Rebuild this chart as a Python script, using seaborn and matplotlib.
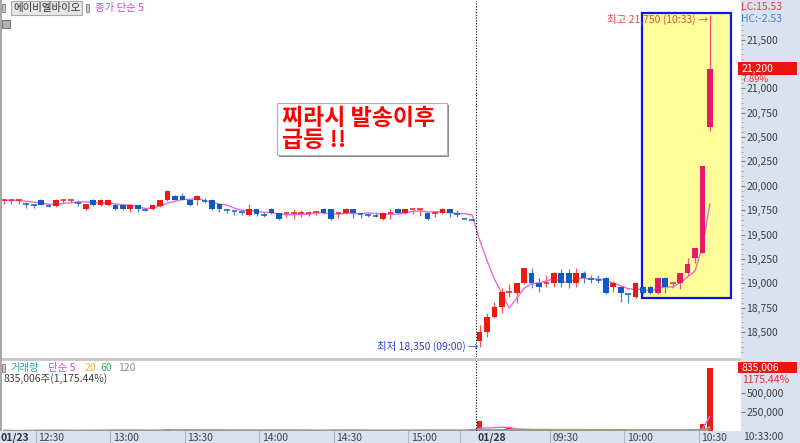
import matplotlib
matplotlib.use("Agg")
import matplotlib.pyplot as plt
import matplotlib.transforms as mtransforms
from matplotlib.patches import Rectangle
import numpy as np
import pandas as pd
import seaborn as sns

# 3분봉 OHLC: 01/23 오후 ~ 01/28 10:33
OPENS = [
    19850, 19850, 19850, 19810, 19800, 19850, 19790, 19790, 19850, 19850,
    19820, 19760, 19850, 19800, 19800, 19800, 19800, 19760, 19800, 19750,
    19760, 19790, 19850, 19900, 19900, 19850, 19850, 19840, 19850, 19810,
    19750, 19740, 19730, 19700, 19760, 19700, 19760, 19720, 19720, 19720,
    19720, 19720, 19730, 19760, 19760, 19720, 19720, 19760, 19710, 19700,
    19690, 19660, 19720, 19760, 19720, 19760, 19760, 19720, 19720, 19720,
    19760, 19710, 19660, 19650,
    18410, 18500, 18650, 18760, 18910, 18900, 19000, 19110, 19000, 19000,
    19000, 19110, 19110, 19000, 19110, 19040, 19030, 19050, 18960, 18960,
    18890, 18860, 18960, 18960, 18900, 19050, 19000, 19000, 19110, 19260,
    19310, 20600,
]
HIGHS = [
    19850, 19850, 19850, 19820, 19810, 19860, 19810, 19860, 19850, 19850,
    19850, 19810, 19860, 19860, 19860, 19810, 19810, 19800, 19800, 19770,
    19800, 19850, 19960, 19910, 19930, 19860, 19910, 19870, 19860, 19810,
    19750, 19740, 19730, 19810, 19760, 19730, 19770, 19720, 19720, 19760,
    19750, 19740, 19730, 19770, 19760, 19720, 19770, 19760, 19710, 19720,
    19730, 19720, 19760, 19770, 19760, 19760, 19760, 19720, 19740, 19770,
    19760, 19750, 19660, 19650,
    18570, 18700, 18810, 18950, 18990, 19000, 19160, 19160, 19050, 19090,
    19120, 19150, 19150, 19160, 19130, 19090, 19090, 19060, 19020, 18970,
    18890, 19000, 18970, 18970, 19050, 19060, 19000, 19110, 19260, 19360,
    20200, 21750,
]
LOWS = [
    19810, 19810, 19810, 19770, 19770, 19800, 19780, 19780, 19820, 19820,
    19790, 19750, 19790, 19790, 19790, 19750, 19750, 19730, 19730, 19740,
    19750, 19780, 19840, 19850, 19850, 19790, 19800, 19820, 19750, 19730,
    19720, 19700, 19700, 19690, 19690, 19680, 19710, 19650, 19680, 19660,
    19680, 19690, 19700, 19710, 19650, 19670, 19710, 19670, 19670, 19680,
    19680, 19650, 19660, 19710, 19710, 19710, 19690, 19650, 19680, 19710,
    19680, 19680, 19660, 19650,
    18350, 18450, 18640, 18700, 18860, 18800, 18990, 18950, 18910, 18960,
    18960, 18960, 18950, 18960, 19000, 19000, 19000, 18890, 18910, 18810,
    18800, 18850, 18890, 18890, 18890, 18900, 18950, 18940, 19070, 19210,
    19310, 20560,
]
CLOSES = [
    19850, 19850, 19850, 19810, 19800, 19800, 19790, 19850, 19850, 19850,
    19820, 19810, 19800, 19850, 19850, 19760, 19760, 19800, 19760, 19750,
    19800, 19850, 19950, 19850, 19850, 19800, 19900, 19840, 19760, 19760,
    19750, 19740, 19730, 19760, 19710, 19700, 19720, 19660, 19720, 19720,
    19720, 19720, 19730, 19720, 19660, 19720, 19760, 19720, 19710, 19700,
    19690, 19720, 19720, 19720, 19760, 19760, 19760, 19660, 19720, 19760,
    19720, 19710, 19660, 19650,
    18500, 18650, 18760, 18910, 18910, 19000, 19160, 19000, 18960, 19000,
    19110, 19000, 19000, 19110, 19050, 19040, 19030, 18900, 19000, 18900,
    18890, 19000, 18900, 18900, 19050, 18960, 19000, 19110, 19200, 19360,
    20200, 21200,
]
VOLUMES = [
    6000, 4000, 3000, 8000, 5000, 12000, 3000, 9000, 4000, 3000,
    5000, 10000, 9000, 8000, 7000, 11000, 9000, 6000, 8000, 3000,
    7000, 10000, 25000, 14000, 9000, 8000, 12000, 4000, 15000, 9000,
    5000, 4000, 3000, 10000, 9000, 4000, 8000, 12000, 5000, 4000,
    3000, 3000, 4000, 9000, 14000, 5000, 8000, 7000, 4000, 3000,
    4000, 8000, 3000, 9000, 10000, 5000, 6000, 12000, 3000, 9000,
    8000, 4000, 5000, 30000,
    135000, 28000, 30000, 22000, 35000, 15000, 14000, 10000, 8000, 6000,
    7000, 6000, 6000, 5000, 4000, 4000, 4000, 6000, 5000, 4000,
    5000, 8000, 5000, 4000, 12000, 8000, 6000, 8000, 10000, 14000,
    95000, 835006,
]
VOL_RATIO = 1175.44

TIME_LABELS = ["12:30", "13:00", "13:30", "14:00", "14:30", "15:00", "09:30", "10:00", "10:30"]
TIME_INDEX = [5, 15, 25, 35, 45, 55, 74, 84, 94]
DATE_LABELS = ["01/23", "01/28"]
DATE_INDEX = [0, 64]
LAST_TIME = "10:33:00"
PRICE_TICKS = list(range(18500, 21501, 250))
VOL_TICKS = [250000, 500000]

STOCK_NAME = "에이비엘바이오"
CALLOUT = "찌라시 발송이후\n급등 !!"
HIGHLIGHT_FROM = 86  # 노란 박스 시작 봉

RED = "#EE1A10"
PINK = "#E6196B"
BLUE = "#0B5CC6"
MA_COLOR = "#E46AD6"
PANEL = "#D9E3EF"

sns.set_style("white")
plt.rcParams["font.family"] = ["Noto Sans CJK KR", "DejaVu Sans"]
plt.rcParams["axes.unicode_minus"] = False

W, H = 800, 443
fig = plt.figure(figsize=(W / 100, H / 100), dpi=100)


def fbox(x0, y0, x1, y1):
    # 픽셀 박스(좌상단 원점) -> figure 비율
    return [x0 / W, 1 - y1 / H, (x1 - x0) / W, (y1 - y0) / H]


def fpt(x, y):
    return x / W, 1 - y / H


# 배경 패널
fig.add_artist(Rectangle((740 / W, 0), 1 - 740 / W, 1, transform=fig.transFigure,
                         fc=PANEL, ec="none", zorder=-2))
fig.add_artist(Rectangle((0, 1 - 361 / H), 741 / W, 3 / H, transform=fig.transFigure,
                         fc="#C9C9C9", ec="none", zorder=-1))
fig.add_artist(Rectangle((0, 1 - 431 / H), 1.5 / W, 431 / H, transform=fig.transFigure,
                         fc="#A8A8A8", ec="none", zorder=-1))

ax = fig.add_axes(fbox(2, 1, 741, 357))
ax_v = fig.add_axes(fbox(2, 361, 741, 431), sharex=ax)
ax_t = fig.add_axes(fbox(0, 431, 741, 443), sharex=ax)

df = pd.DataFrame({"idx": np.arange(len(CLOSES)), "open": OPENS, "high": HIGHS,
                   "low": LOWS, "close": CLOSES, "volume": VOLUMES})
prev = df["close"].shift(1)
df["up"] = (df["close"] > df["open"]) | ((df["close"] == df["open"]) & ~(df["close"] < prev))
df["color"] = [
    (PINK if i >= HIGHLIGHT_FROM else RED) if u else BLUE
    for i, u in zip(df["idx"], df["up"])
]
df["ma5"] = df["close"].rolling(5, min_periods=1).mean()

# 노란 하이라이트 박스
box_x0, box_x1 = HIGHLIGHT_FROM - 0.1, 97.85
ax.add_patch(Rectangle((box_x0, 18850), box_x1 - box_x0, 21770 - 18850,
                       fc="#FFFF99", ec="#0A14F0", lw=1.6, zorder=1))

# 캔들
ax.vlines(df["idx"], df["low"], df["high"], colors=df["color"], lw=0.9, alpha=0.75, zorder=3)
body = df[df["close"] != df["open"]]
ax.bar(body["idx"], (body["close"] - body["open"]).abs(),
       bottom=np.minimum(body["open"], body["close"]),
       width=0.76, color=body["color"], lw=0, zorder=4)
doji = df[df["close"] == df["open"]]
ax.hlines(doji["close"], doji["idx"] - 0.38, doji["idx"] + 0.38,
          colors=doji["color"], lw=1.1, zorder=4)

sns.lineplot(data=df, x="idx", y="ma5", ax=ax, color=MA_COLOR, lw=1, zorder=3.5)

day_break = DATE_INDEX[1] - 0.5
for a in (ax, ax_v):
    a.axvline(day_break, color="black", ls=(0, (1, 1.5)), lw=0.8, zorder=6)

# 최고 / 최저 표시
hi_i = int(df["high"].idxmax())
lo_i = int(df["low"].idxmin())
ax.text(hi_i - 0.25, HIGHS[hi_i] - 40, f"최고 {HIGHS[hi_i]:,} (10:33) →",
        ha="right", va="center", fontsize=7.5, color="#F04848", zorder=7)
ax.text(lo_i - 0.2, LOWS[lo_i], f"최저 {LOWS[lo_i]:,} (09:00) →",
        ha="right", va="center", fontsize=7.5, color="#2A3FE0", zorder=7)

# 말풍선 박스
ax.add_patch(Rectangle((36.95, 20290), 22.9, 534, fc="#8C8C8C", ec="none", zorder=6))
ax.add_patch(Rectangle((36.7, 20315), 22.9, 534, fc="white", ec="#B0B0B0", lw=0.8, zorder=6.5))
ax.text(37.4, 20575, CALLOUT, ha="left", va="center", fontsize=16.5, fontweight="bold",
        style="italic", color="#FF0000", linespacing=0.95, zorder=7)

ax.set_xlim(-0.27, 99.19)
ax.set_ylim(18244, 21895)
ax.set_xlabel("")
ax.set_ylabel("")
for s in ax.spines.values():
    s.set_visible(False)
ax.set_xticks([])
ax.yaxis.tick_right()
last = CLOSES[-1]
ax.set_yticks(PRICE_TICKS)
# 현재가 박스에 가려지는 눈금 라벨은 비움
ax.set_yticklabels(["" if abs(t - last) < 100 else f"{t:,}" for t in PRICE_TICKS])
ax.set_yticks(list(range(18300, 21900, 50)), minor=True)
ax.tick_params(axis="y", which="major", length=3, width=0.8, color="#808080",
               pad=1, labelsize=7.5, labelcolor="#3C3C3C")
ax.tick_params(axis="y", which="minor", length=1.5, width=0.6, color="#9A9A9A")

# 현재가 라벨
ytrans = mtransforms.blended_transform_factory(ax.transAxes, ax.transData)
prev_close = CLOSES[DATE_INDEX[1] - 1]
ax.add_patch(Rectangle((0.9965, last - 66), 0.0795, 133, transform=ytrans,
                       fc="#E8170C", ec="none", clip_on=False, zorder=8))
ax.text(1.001, last, f"{last:,}", transform=ytrans, ha="left", va="center",
        fontsize=7.5, color="white", zorder=9, clip_on=False)
ax.text(1.001, last - 105, f"{(last - prev_close) / prev_close * 100:.2f}%", transform=ytrans,
        ha="left", va="center", fontsize=6.8, color="#E83030", zorder=9, clip_on=False)

lc = (last - min(LOWS)) / min(LOWS) * 100
hc = (last - max(HIGHS)) / max(HIGHS) * 100
fig.text(*fpt(741, 7), f"LC:{lc:.2f}", ha="left", va="center", fontsize=7.5, color="#E84040")
fig.text(*fpt(741, 19), f"HC:{hc:.2f}", ha="left", va="center", fontsize=7.5, color="#4A7FD0")

# 좌상단 종목명
fig.text(*fpt(13, 8), STOCK_NAME, ha="left", va="center", fontsize=7.5, color="#303030",
         bbox=dict(boxstyle="square,pad=0.15", fc="#E6E6E6", ec="#A8A8A8", lw=0.8))
fig.text(*fpt(95, 8), "종가 단순 5", ha="left", va="center", fontsize=7.5, color="#E040C8")
for x0 in (2, 86):
    fig.add_artist(Rectangle(fpt(x0, 12), 3 / W, 8 / H, transform=fig.transFigure,
                             fc="#C8C8C8", ec="#808080", lw=0.6))
fig.add_artist(Rectangle(fpt(2, 28), 8 / W, 8 / H, transform=fig.transFigure,
                         fc="#B0B0B0", ec="#606060", lw=0.6))

# 거래량
vol_cols = [RED if u else BLUE for u in df["up"]]
ax_v.bar(df["idx"], df["volume"], width=0.76, color=vol_cols, lw=0, zorder=3)
for n, c in zip([5, 20, 60, 120], [MA_COLOR, "#F0B040", "#3CA85A", "#9A9A9A"]):
    sns.lineplot(x=df["idx"], y=df["volume"].rolling(n, min_periods=1).mean(),
                 ax=ax_v, color=c, lw=1, zorder=4)
ax_v.set_ylim(0, 921000)
ax_v.set_xlabel("")
ax_v.set_ylabel("")
for s in ax_v.spines.values():
    s.set_visible(False)
ax_v.tick_params(axis="x", bottom=False, labelbottom=False)
ax_v.yaxis.tick_right()
ax_v.set_yticks(VOL_TICKS)
ax_v.set_yticklabels([f"{t:,}" for t in VOL_TICKS])
ax_v.tick_params(axis="y", length=3, width=0.8, color="#808080", pad=1,
                 labelsize=7.5, labelcolor="#3C3C3C")

vtrans = mtransforms.blended_transform_factory(ax_v.transAxes, ax_v.transData)
vlast = VOLUMES[-1]
ax_v.add_patch(Rectangle((0.9965, vlast - 72000), 0.0795, 145000, transform=vtrans,
                         fc="#E8170C", ec="none", clip_on=False, zorder=8))
ax_v.text(1.001, vlast, f"{vlast:,}", transform=vtrans, ha="left", va="center",
          fontsize=7.5, color="white", zorder=9, clip_on=False)
ax_v.text(1.001, vlast - 165000, f"{VOL_RATIO:.2f}%", transform=vtrans, ha="left",
          va="center", fontsize=7.5, color="#E83030", zorder=9, clip_on=False)

fig.add_artist(Rectangle(fpt(2, 372), 3 / W, 8 / H, transform=fig.transFigure,
                         fc="#C8C8C8", ec="#808080", lw=0.6))
legend_items = [(10, "거래량", "#2FA8A8"), (48, "단순 5", "#E040C8"), (85, "20", "#F0B040"),
                (100, "60", "#3CA85A"), (118, "120", "#8C8C8C")]
for x0, txt, c in legend_items:
    fig.text(*fpt(x0, 368), txt, ha="left", va="center", fontsize=7.5, color=c)
fig.text(*fpt(3, 379), f"{vlast:,}주({VOL_RATIO:,.2f}%)", ha="left", va="center",
         fontsize=7.5, color="#404040")

# 시간축
ax_t.set_facecolor(PANEL)
ax_t.set_ylim(0, 1)
ax_t.set_xticks([])
ax_t.set_yticks([])
for s in ax_t.spines.values():
    s.set_visible(False)
for i, lab in zip(TIME_INDEX, TIME_LABELS):
    ax_t.text(i - 0.15, 0.45, lab, ha="left", va="center", fontsize=7.5, color="#404040")
    ax_t.axvline(i - 0.5, color="#A9B6C6", lw=0.8)
for i, lab in zip(DATE_INDEX, DATE_LABELS):
    ax_t.text(i - 0.15, 0.45, lab, ha="left", va="center", fontsize=7.5,
              fontweight="bold", color="#303030")
    if i > 0:
        ax_t.axvline(i - 2.5, color="#A9B6C6", lw=0.8)
fig.text(*fpt(743, 437), LAST_TIME, ha="left", va="center", fontsize=7.5, color="#404040")

fig.savefig("out.png", dpi=100)
